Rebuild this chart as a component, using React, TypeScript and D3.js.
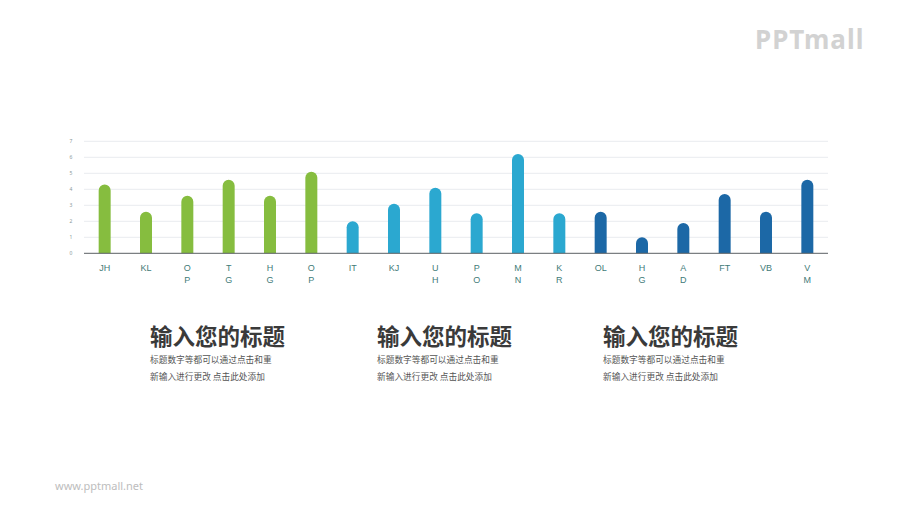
import React from "react";
import * as d3 from "d3";

const categories: string[][] = [
  ["JH"], ["KL"], ["O", "P"], ["T", "G"], ["H", "G"], ["O", "P"],
  ["IT"], ["KJ"], ["U", "H"], ["P", "O"], ["M", "N"], ["K", "R"],
  ["OL"], ["H", "G"], ["A", "D"], ["FT"], ["VB"], ["V", "M"],
];
const values: number[] = [4.3, 2.6, 3.6, 4.6, 3.6, 5.1, 2.0, 3.1, 4.1, 2.5, 6.2, 2.5, 2.6, 1.0, 1.9, 3.7, 2.6, 4.6];
const groups: number[] = [0, 0, 0, 0, 0, 0, 1, 1, 1, 1, 1, 1, 2, 2, 2, 2, 2, 2];
const groupColors: string[] = ["#86bd3f", "#2ba8d0", "#1c68a6"];
const yTicks: number[] = [0, 1, 2, 3, 4, 5, 6, 7];
const titles: string[] = ["输入您的标题", "输入您的标题", "输入您的标题"];
const bodyLines: string[] = ["标题数字等都可以通过点击和重", "新输入进行更改 点击此处添加"];

export default function App() {
  const W = 900, H = 506;
  const x0 = 84, x1 = 828;
  const y = d3.scaleLinear().domain([0, 7]).range([253.3, 141.3]);
  const x = d3.scaleBand<number>().domain(d3.range(categories.length)).range([x0, x1]).paddingInner(0.71).paddingOuter(0.355);
  const bw = x.bandwidth();
  const r = bw / 2;
  const barPath = (i: number) => {
    const left = x(i)!;
    const top = y(values[i]);
    const bottom = y(0);
    const p = d3.path();
    p.moveTo(left, bottom);
    p.lineTo(left, top + r);
    p.arc(left + r, top + r, r, Math.PI, 0);
    p.lineTo(left + bw, bottom);
    p.closePath();
    return p.toString();
  };
  const blockX = [150, 377, 603];
  return (
    <svg width={W} height={H} style={{ position: "absolute", left: 0, top: 0, background: "#fff" }}
      fontFamily="'Noto Sans', 'Noto Sans CJK SC', sans-serif">
      <rect width={W} height={H} fill="#fff" />
      {yTicks.map((t) => (
        <g key={t}>
          {t > 0 && <line x1={x0} x2={x1} y1={y(t)} y2={y(t)} stroke="#e9ecef" strokeWidth={1} />}
          <text x={71} y={y(t)} dy="0.35em" fontSize={5} fill="#8a9a9a" textAnchor="middle">{t}</text>
        </g>
      ))}
      {values.map((v, i) => (
        <path key={i} d={barPath(i)} fill={groupColors[groups[i]]} />
      ))}
      <line x1={x0} x2={x1} y1={y(0)} y2={y(0)} stroke="#5a5f63" strokeWidth={1} />
      {categories.map((lines, i) => (
        <text key={i} x={x(i)! + bw / 2} textAnchor="middle" fontSize={9} fill="#3f7b78"
          fontFamily="'Liberation Sans', Arial, sans-serif">
          {lines.map((l, j) => (
            <tspan key={j} x={x(i)! + bw / 2} y={271 + j * 12}>{l}</tspan>
          ))}
        </text>
      ))}
      {titles.map((t, k) => (
        <g key={k}>
          <text x={blockX[k]} y={345} fontSize={22.5} fontWeight="bold" fill="#3a3a3a"
            fontFamily="'Noto Sans CJK SC', sans-serif">{t}</text>
          {bodyLines.map((l, j) => (
            <text key={j} x={blockX[k]} y={363 + j * 17} fontSize={8.7} fill="#555"
              fontFamily="'Noto Sans CJK SC', sans-serif">{l}</text>
          ))}
        </g>
      ))}
      <text x={755} y={49} fontSize={26} fontWeight="bold" fill="#d2d2d2" fontFamily="'Noto Sans', sans-serif" letterSpacing={1}>PPTmall</text>
      <text x={55} y={490} fontSize={11} fill="#bdbdbd" fontFamily="'Noto Sans', sans-serif">www.pptmall.net</text>
    </svg>
  );
}
